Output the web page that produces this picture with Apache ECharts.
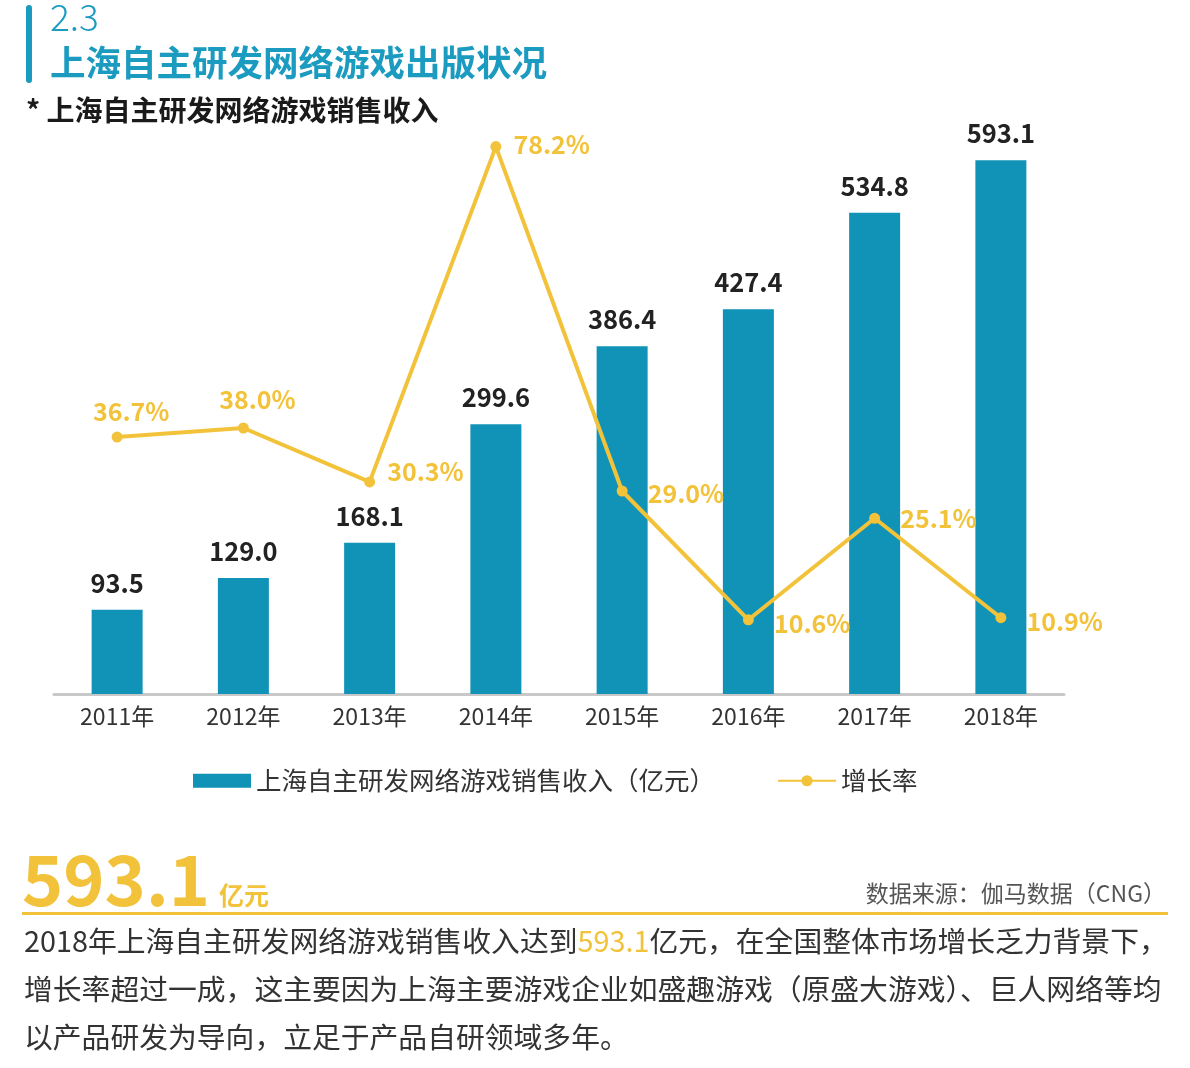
<!DOCTYPE html>
<html><head><meta charset="utf-8">
<script src="https://cdn.jsdelivr.net/npm/echarts@6/dist/echarts.min.js"></script>
<style>html,body{margin:0;padding:0;background:#fff;}#c{width:1190px;height:1068px;}</style>
</head><body><div id="c"></div>
<script>
const categories = ['2011年','2012年','2013年','2014年','2015年','2016年','2017年','2018年'];
const revenue = [93.5, 129.0, 168.1, 299.6, 386.4, 427.4, 534.8, 593.1];
const growth = [36.7, 38.0, 30.3, 78.2, 29.0, 10.6, 25.1, 10.9];
const growthLabelPos = ['top','top','right','right','right','right','right','right'];
const growthLabelOffset = [[14, 4], [14, 2], [0, -10], [0, -2], [8, 2], [8, 4], [8, 0], [8, 4]];

const BLUE = '#1192b7';
const YELLOW = '#f2c33a';
const FONT = '"Noto Sans CJK SC","Noto Sans",sans-serif';

const chart = echarts.init(document.getElementById('c'));
chart.setOption({
  animation: false,
  textStyle: {fontFamily: FONT},
  grid: {left: 54, right: 126, top: 134, bottom: 374},
  legend: {
    data: [
      {name: '上海自主研发网络游戏销售收入（亿元）', icon: 'rect'},
      {name: '增长率'}
    ],
    top: 763, left: 188,
    itemWidth: 58, itemHeight: 14, itemGap: 62,
    textStyle: {fontSize: 25.5, color: '#333', fontFamily: FONT}
  },
  xAxis: {
    type: 'category', data: categories,
    axisLine: {lineStyle: {color: '#c8c8c8', width: 3}},
    axisTick: {show: false},
    axisLabel: {fontSize: 23, color: '#333', margin: 11, fontFamily: FONT}
  },
  yAxis: [
    {type: 'value', min: 0, max: 622.2, show: false, splitLine: {show: false}},
    {type: 'value', min: 0, max: 80, show: false, splitLine: {show: false}}
  ],
  series: [
    {
      name: '上海自主研发网络游戏销售收入（亿元）', type: 'bar', data: revenue,
      barWidth: 51, itemStyle: {color: BLUE}, yAxisIndex: 0,
      label: {show: true, position: 'top', distance: 14, fontSize: 25.5, fontWeight: 'bold',
        color: '#222', fontFamily: FONT, formatter: p => p.value.toFixed(1)}
    },
    {
      name: '增长率', type: 'line', yAxisIndex: 1,
      data: growth.map((v, i) => ({value: v, label: {position: growthLabelPos[i],
        offset: growthLabelOffset[i]}})),
      itemStyle: {color: YELLOW}, lineStyle: {color: YELLOW, width: 4},
      symbol: 'circle', symbolSize: 11, z: 5,
      label: {show: true, fontSize: 25, fontWeight: 'bold', color: YELLOW, distance: 12,
        fontFamily: FONT, formatter: p => p.value.toFixed(1) + '%'}
    }
  ],
  graphic: [
    {type: 'rect', shape: {x: 26, y: 5, width: 6, height: 78, r: 3}, style: {fill: '#1a9bbf'}},
    {type: 'text', left: 50, top: -2, style: {text: '2.3', fontSize: 37, fill: '#1a9bbf', fontFamily: FONT, fontWeight: 300}},
    {type: 'text', left: 50, top: 45, style: {text: '上海自主研发网络游戏出版状况', fontSize: 35.5, fontWeight: 'bold', fill: '#1a9bbf', fontFamily: FONT}},
    {type: 'text', left: 26, top: 96, style: {text: '* 上海自主研发网络游戏销售收入', fontSize: 28, fontWeight: 'bold', fill: '#1a1a1a', fontFamily: FONT}},
    {type: 'text', left: 22, top: 844, style: {text: '593.1', fontSize: 70, fontWeight: 'bold', fill: YELLOW, fontFamily: FONT}},
    {type: 'text', left: 219, top: 883, style: {text: '亿元', fontSize: 25, fontWeight: 'bold', fill: YELLOW, fontFamily: FONT}},
    {type: 'text', right: 24, top: 882, style: {text: '数据来源：伽马数据（CNG）', fontSize: 23, fill: '#555', fontFamily: FONT}},
    {type: 'rect', shape: {x: 22, y: 912, width: 1146, height: 3}, style: {fill: YELLOW}},
    {type: 'text', left: 24, top: 927, style: {
      text: '{n|2018年上海自主研发网络游戏销售收入达到}{y|593.1}{n|亿元，在全国整体市场增长乏力背景下，}\n{n|增长率超过一成，这主要因为上海主要游戏企业如盛趣游戏（原盛大游戏）、巨人网络等均}\n{n|以产品研发为导向，立足于产品自研领域多年。}',
      rich: {
        n: {fontSize: 28.8, fill: '#333', fontFamily: FONT, lineHeight: 48},
        y: {fontSize: 28.8, fill: YELLOW, fontFamily: FONT, lineHeight: 48}
      }
    }}
  ]
});
</script></body></html>
